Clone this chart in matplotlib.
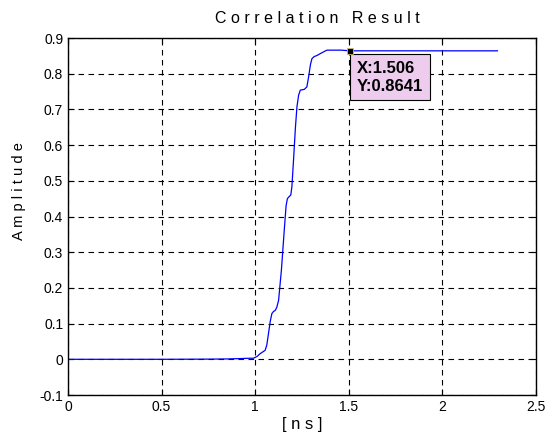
import matplotlib
matplotlib.use("Agg")
import matplotlib.pyplot as plt

plt.rcParams['font.family'] = ['Liberation Sans', 'DejaVu Sans']

# correlation curve
t_ns = [0.0, 0.5, 0.75, 0.85, 0.92, 0.97, 0.991, 1.01, 1.027, 1.053, 1.062,
        1.071, 1.08, 1.089, 1.098, 1.107, 1.115, 1.125, 1.14, 1.155, 1.165,
        1.172, 1.18, 1.19, 1.196, 1.205, 1.215, 1.223, 1.232, 1.241, 1.25,
        1.262, 1.276, 1.285, 1.295, 1.303, 1.315, 1.33, 1.35, 1.383, 1.42,
        1.46, 1.506, 1.8, 2.294]
amp = [0.0, 0.0, 0.0005, 0.001, 0.002, 0.003, 0.003, 0.008, 0.016, 0.025, 0.04,
       0.072, 0.105, 0.128, 0.134, 0.137, 0.145, 0.165, 0.25, 0.36, 0.43,
       0.45, 0.455, 0.46, 0.483, 0.56, 0.65, 0.707, 0.74, 0.754, 0.755,
       0.756, 0.763, 0.79, 0.825, 0.842, 0.848, 0.851, 0.857, 0.866, 0.866,
       0.866, 0.8641, 0.8641, 0.8641]

tip_x = 1.506
tip_y = 0.8641

fig = plt.figure(figsize=(5.56, 4.41), dpi=100)
ax = fig.add_axes([0.1223, 0.1043, 0.8417, 0.8095])

ax.plot(t_ns, amp, color='#0000FF', lw=0.9)

ax.set_xlim(0, 2.5)
ax.set_ylim(-0.1, 0.9)
ax.set_xticks([0, 0.5, 1, 1.5, 2, 2.5])
ax.set_xticklabels(['0', '0.5', '1', '1.5', '2', '2.5'])
ax.set_yticks([-0.1, 0, 0.1, 0.2, 0.3, 0.4, 0.5, 0.6, 0.7, 0.8, 0.9])
ax.set_yticklabels(['-0.1', '0', '0.1', '0.2', '0.3', '0.4', '0.5', '0.6',
                    '0.7', '0.8', '0.9'])
ax.tick_params(direction='in', top=True, right=True, length=4, labelsize=10,
               width=0.8)
ax.grid(True, color='black', linestyle=(0, (5, 4)), lw=0.8)
for s in ax.spines.values():
    s.set_linewidth(1.0)

ax.set_title('C o r r e l a t i o n   R e s u l t', fontsize=11.5, pad=11,
             x=0.532)
ax.set_xlabel('[ n s ]', fontsize=12, labelpad=2)
ax.set_ylabel('A m p l i t u d e', fontsize=10.5)
ax.yaxis.set_label_coords(-0.09, 0.571)

# data tip
ax.plot([tip_x], [tip_y], 's', color='black', mec='#C8C070', mew=0.6, ms=5,
        zorder=7)
ax.annotate('X:%.3f\nY:%.4f' % (tip_x, tip_y), xy=(tip_x, tip_y),
            xytext=(5, -7), textcoords='offset points', ha='left', va='top',
            fontsize=12, fontweight='bold', linespacing=1.25,
            bbox=dict(boxstyle='square,pad=0.4', fc='#EDCCED', ec='black',
                      lw=0.8), zorder=6)

fig.savefig('out.png', dpi=100)
